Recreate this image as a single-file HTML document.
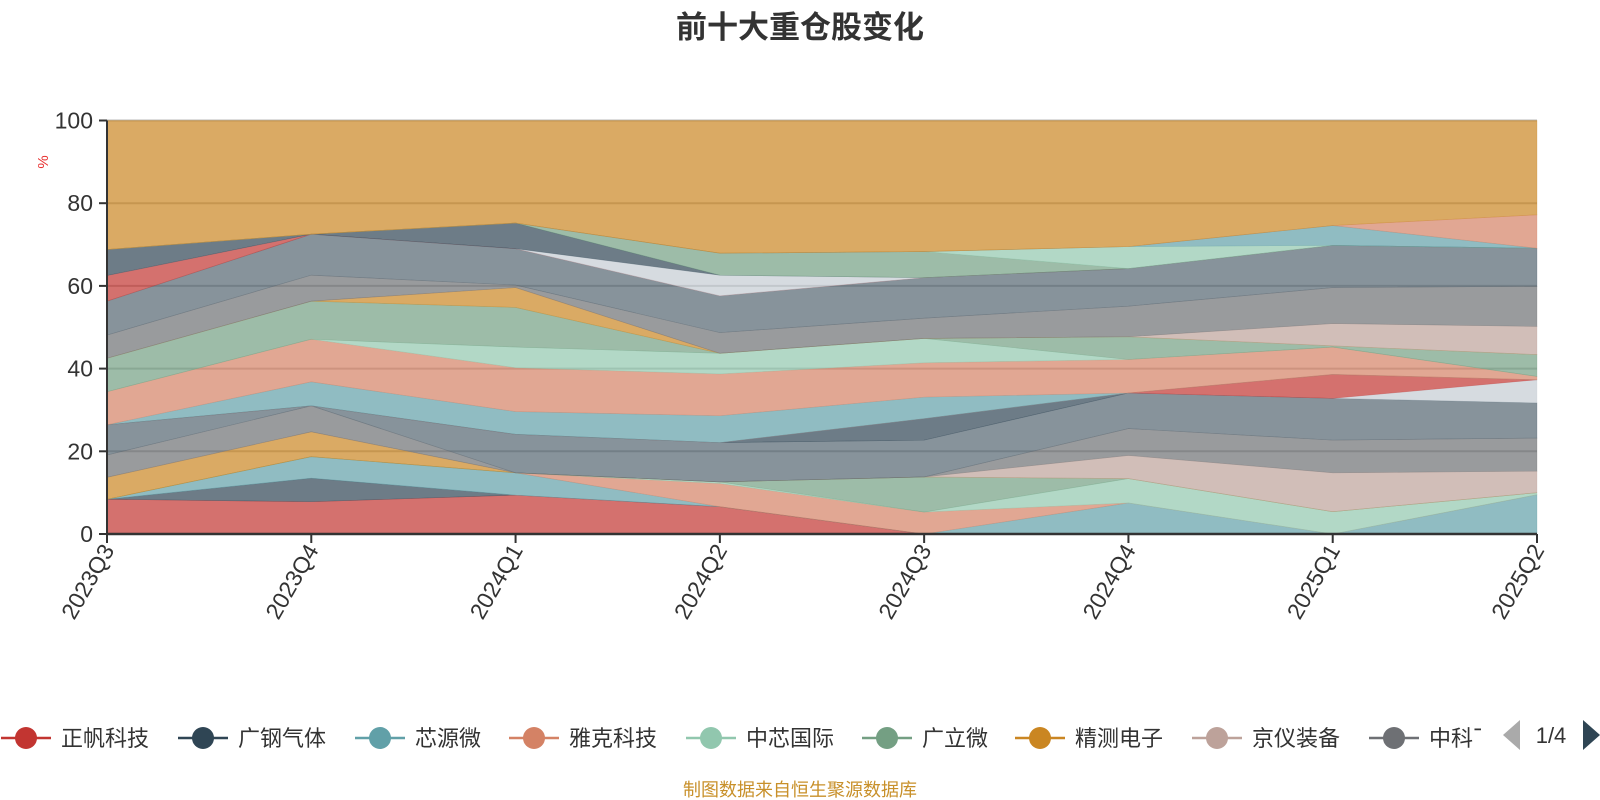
<!DOCTYPE html>
<html><head><meta charset="utf-8"><style>
html,body{margin:0;padding:0;background:#fff;}
svg{display:block;font-family:"Liberation Sans","Noto Sans CJK SC",sans-serif;}
</style></head><body>
<svg id="chart" width="1600" height="800" viewBox="0 0 1600 800" xmlns="http://www.w3.org/2000/svg">
<text x="800" y="38" text-anchor="middle" font-size="31" font-weight="bold" fill="#333">前十大重仓股变化</text>
<text x="0" y="0" transform="translate(48,162) rotate(-90)" text-anchor="middle" font-size="15" fill="#e8302f">%</text>
<g id="grid"></g>
<g id="areas"></g>
<g id="axes"></g>
<g id="legend"></g>
<text x="0" y="0"></text>
<polygon points="1520,720 1503,735 1520,750" fill="#aaa"/>
<text x="1551" y="743" text-anchor="middle" font-size="22" fill="#333">1/4</text>
<polygon points="1583,720 1600,735 1583,750" fill="#2f4554"/>
<text x="800" y="796" text-anchor="middle" font-size="18" fill="#c8902a">制图数据来自恒生聚源数据库</text>
</svg>
<script>
const categories = ["2023Q3","2023Q4","2024Q1","2024Q2","2024Q3","2024Q4","2025Q1","2025Q2"];
const yTicks = [0,20,40,60,80,100];
const seriesNames = ["正帆科技","广钢气体","芯源微","雅克科技","中芯国际","广立微","精测电子","京仪装备","中科飞测","拓荆科技","华海清科","中微公司","北方华创","盛美上海","芯碁微装","安集科技","江丰电子","富创精密","华峰测控","长川科技","至纯科技","鼎龙股份","联动科技","金海通","上海合晶","晶升股份","芯动联科","屹唐股份","其他"];
const seriesColors = ["#c23531","#2f4554","#61a0a8","#d48265","#91c7ae","#749f83","#ca8622","#bda29a","#6e7074","#546570","#c4ccd3","#2f4554","#c4ccd3","#c23531","#61a0a8","#d48265","#91c7ae","#749f83","#ca8622","#bda29a","#6e7074","#546570","#c23531","#c4ccd3","#2f4554","#749f83","#91c7ae","#61a0a8","#d48265","#ca8622"];
const s1 = [8.4,7.8,9.4,6.6,0,0,0,0];
const s2 = [0,5.7,0,0,0,0,0,0];
const s3 = [0,5.2,5.4,0,0,7.5,0,9.5];
const s4 = [0,0,0,5.6,5.3,0,0,0];
const s5 = [0,0,0,0.4,0,5.9,5.4,0.5];
const s6 = [0,0,0,0,8.5,0,0,0];
const s7 = [5.3,6.0,0,0,0,0,0,0];
const s8 = [0,0,0,0,0,5.6,9.4,5.2];
const s9 = [5.4,6.3,0,0,0,6.5,7.9,8.0];
const s10 = [7.3,0,9.3,9.5,8.9,8.6,10.1,8.5];
const s11 = [0,0,0,0,5.2,0,0,0];
const s12 = [0,0,0,0,0,0,0,5.6];
const s13 = [0,0,0,0,0,0,5.8,0];
const s14 = [0,5.8,5.5,6.5,5.2,0,0,0];
const s15 = [8.0,10.3,10.6,10.1,8.3,8.1,6.6,0.8];
const s16 = [0,0,5.0,5.0,5.9,0,0,0];
const s17 = [8.1,9.2,9.6,0,0,5.5,0.3,5.3];
const s18 = [0,0,4.8,0,0,0,0,0];
const s19 = [0,0,0,0,0,0,5.4,6.8];
const s20 = [5.6,6.3,0.6,5.0,4.9,7.4,8.7,9.7];
const s21 = [8.2,9.9,8.8,8.9,9.8,9.1,10.2,9.2];
const s22 = [6.2,0,0,0,0,0,0,0];
const s23 = [0,0,0,5.0,0,0,0,0];
const s24 = [6.3,0,6.2,0,0,0,0,0];
const s25 = [0,0,0,5.3,6.3,0,0,0];
const s26 = [0,0,0,0,0,5.3,0,0];
const s27 = [0,0,0,0,0,0,4.8,0];
const s28 = [0,0,0,0,0,0,0,8.1];
const s29 = [31.2,27.5,24.8,32.1,31.7,30.5,25.4,22.8];
const seriesValues = [s1,s2,s3,s4,s5,s6,s7,s8,s9,s10,s11,s12,s13,s14,s15,s16,s17,s18,s19,s20,s21,s22,s23,s24,s25,s26,s27,s28,s29];
const areaColors = ["#c23531","#2f4554","#61a0a8","#d48265","#91c7ae","#749f83","#ca8622","#bda29a","#6e7074","#546570","#2f4554","#c4ccd3","#c23531","#61a0a8","#d48265","#91c7ae","#749f83","#ca8622","#bda29a","#6e7074","#546570","#c23531","#c4ccd3","#2f4554","#749f83","#91c7ae","#61a0a8","#d48265","#ca8622"];

const NS = "http://www.w3.org/2000/svg";
const X0 = 107, X1 = 1537, Y0 = 534, Y1 = 120.5;
function xScale(i){ return X0 + (X1 - X0) * i / (categories.length - 1); }
function yScale(v){ return Y0 - (Y0 - Y1) * v / 100; }
function mk(tag, attrs, parent){ const e = document.createElementNS(NS, tag); for (const k in attrs) e.setAttribute(k, attrs[k]); parent.appendChild(e); return e; }

const grid = document.getElementById('grid');
yTicks.forEach(t => {
  if (t === 0) return;
  const l = mk('line', {x1:X0, x2:X1, y1:yScale(t), y2:yScale(t), stroke:'#bbb', 'stroke-width':2}, grid);
  
  
});

const areas = document.getElementById('areas');
const cum = categories.map(() => 0);
seriesValues.forEach((vals, si) => {
  const lower = cum.slice();
  const upper = vals.map((v, i) => lower[i] + v);
  let pts = upper.map((u, i) => xScale(i) + ',' + yScale(Math.min(u,100))).join(' ');
  pts += ' ' + lower.map((l, i) => xScale(i) + ',' + yScale(Math.min(l,100))).reverse().join(' ');
  const p = mk('polygon', {points: pts, fill: areaColors[si], 'fill-opacity': 0.7, stroke: areaColors[si], 'stroke-opacity':0.4, 'stroke-width':0.6}, areas);
  
  
  upper.forEach((u, i) => cum[i] = u);
});

const axes = document.getElementById('axes');
const ya = mk('line', {x1:X0, x2:X0, y1:Y1, y2:Y0, stroke:'#333', 'stroke-width':2}, axes);


yTicks.forEach(t => {
  const tk = mk('line', {x1:X0-8, x2:X0, y1:yScale(t), y2:yScale(t), stroke:'#333', 'stroke-width':2}, axes);
  
  
  const tx = mk('text', {x:X0-14, y:yScale(t)+8, 'text-anchor':'end', 'font-size':23, fill:'#333'}, axes);
  tx.textContent = t;
  
  
});
const xa = mk('line', {x1:X0, x2:X1, y1:Y0, y2:Y0, stroke:'#333', 'stroke-width':2.5}, axes);


categories.forEach((c, i) => {
  const x = xScale(i);
  const tk = mk('line', {x1:x, x2:x, y1:Y0, y2:Y0+9, stroke:'#333', 'stroke-width':2}, axes);
  
  
  const tx = mk('text', {x:0, y:0, transform:'translate(' + (x+8) + ',' + (Y0+16) + ') rotate(-60)', 'text-anchor':'end', 'font-size':23, fill:'#333'}, axes);
  tx.textContent = c;
  
  
});

const legend = document.getElementById('legend');
const legendX = [1, 178, 355, 509, 686, 862, 1015, 1192, 1369];
const clip = mk('clipPath', {id:'legclip'}, legend);
mk('rect', {x:0, y:700, width:1481, height:70}, clip);
const lg = mk('g', {'clip-path':'url(#legclip)'}, legend);
for (let i = 0; i < 9; i++) {
  const x = legendX[i], y = 738, col = seriesColors[i];
  const g = mk('g', {}, lg);
  
  
  mk('line', {x1:x, x2:x+50, y1:y, y2:y, stroke:col, 'stroke-width':2.5}, g);
  mk('circle', {cx:x+25, cy:y, r:11, fill:col}, g);
  const t = mk('text', {x:x+60, y:y+8, 'font-size':22, fill:'#333'}, g);
  t.textContent = seriesNames[i];
}
</script>
</body></html>
